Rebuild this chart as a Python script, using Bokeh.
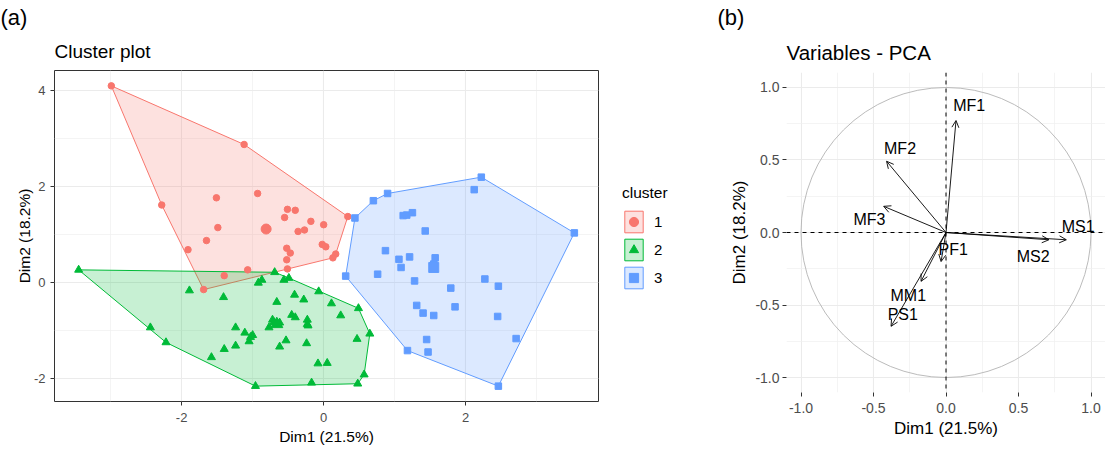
import numpy as np
from bokeh.plotting import figure
from bokeh.models import (ColumnDataSource, FixedTicker, Legend, LegendItem, Title,
                          Span, Arrow, OpenHead, Range1d)
from bokeh.layouts import row
from bokeh.embed import file_html
from bokeh.resources import INLINE
from bokeh.core.properties import value

FONT = "Liberation Sans"

# ---------------- data: cluster plot ----------------
c1_x = [-2.99, -1.12, -2.28, -1.51, -0.93, -0.51, -0.40, -0.55, -0.18, 0.00, 0.34, -1.49,
        -0.36, -0.27, -1.65, -1.91, -0.52, -0.47, -0.52, -0.02, 0.03, 0.17, 0.13, -0.51,
        -1.07, -1.40, -1.69]
c1_y = [4.09, 2.87, 1.61, 1.76, 1.85, 1.52, 1.50, 1.35, 1.27, 1.20, 1.37, 1.14,
        1.06, 1.09, 0.87, 0.68, 0.71, 0.61, 0.47, 0.79, 0.74, 0.59, 0.51, 0.28,
        0.26, 0.14, -0.15]

c2_x = [-3.45, -0.69, -0.49, -0.56, -0.87, -0.92, -1.89, -1.41, -0.41, -0.07, -0.28, -0.66,
        0.11, 0.49, 0.24, -0.45, -0.40, -0.23, -0.23, -0.22, -0.72, -0.77, -0.70, -0.62,
        -1.24, -2.44, -1.11, -1.00, -1.03, -1.05, -0.53, -0.24, -2.22, -1.24, -0.62, -1.40,
        -1.58, -0.08, 0.05, -0.96, -0.17, 0.48, 0.65, 0.47, 0.57]
c2_y = [0.26, 0.21, 0.09, 0.05, 0.05, -0.01, -0.17, -0.31, -0.26, -0.19, -0.36, -0.41,
        -0.44, -0.54, -0.69, -0.68, -0.73, -0.78, -0.87, -0.90, -0.78, -0.94, -0.83, -0.84,
        -0.94, -0.94, -1.05, -1.10, -1.14, -1.23, -1.21, -1.27, -1.25, -1.32, -1.34, -1.39,
        -1.56, -1.69, -1.68, -2.16, -2.09, -2.11, -1.07, -1.18, -1.92]

c3_x = [2.22, 2.12, 0.90, 0.70, 0.44, 1.12, 1.17, 1.25, 1.43, 3.53, 0.87, 1.06,
        1.21, 1.09, 1.57, 1.55, 0.76, 0.31, 1.28, 2.27, 2.46, 1.79, 1.31, 1.85,
        1.40, 1.55, 2.45, 2.71, 1.45, 1.18, 1.47, 2.46]
c3_y = [2.19, 1.93, 1.85, 1.70, 1.34, 1.39, 1.40, 1.45, 1.07, 1.03, 0.66, 0.48,
        0.53, 0.31, 0.51, 0.38, 0.17, 0.13, 0.03, 0.07, -0.08, -0.12, -0.48, -0.51,
        -0.64, -0.69, -0.71, -1.17, -1.19, -1.42, -1.45, -2.16]

center_x = [-0.81, -0.66, 1.55]
center_y = [1.11, -0.87, 0.31]
cluster_labels = ["1", "2", "3"]

# ---------------- data: PCA variables ----------------
pca_vars = ["MF1", "MF2", "MF3", "MS1", "MS2", "PF1", "MM1", "PS1"]
pca_x = [0.069, -0.41, -0.43, 0.83, 0.71, -0.034, -0.172, -0.379]
pca_y = [0.77, 0.49, 0.18, -0.05, -0.05, -0.20, -0.336, -0.645]
lab_x = [0.16, -0.317, -0.528, 0.911, 0.601, 0.050, -0.26, -0.298]
lab_y = [0.87, 0.579, 0.087, 0.041, -0.165, -0.119, -0.434, -0.564]
circle_radius = 1.0

# ---------------- styles ----------------
COLORS = ["#F8766D", "#00BA38", "#619CFF"]
MARKERS = ["circle", "triangle", "square"]
PT_SIZE = [6.5, 8, 6.5]
CTR_SIZE = [10, 12, 10]
HULL_ALPHA = 0.22


def convex_hull(xs, ys):
    pts = sorted(set(zip(xs, ys)))
    if len(pts) <= 2:
        return pts

    def cross(o, a, b):
        return (a[0] - o[0]) * (b[1] - o[1]) - (a[1] - o[1]) * (b[0] - o[0])

    lower = []
    for p in pts:
        while len(lower) >= 2 and cross(lower[-2], lower[-1], p) <= 0:
            lower.pop()
        lower.append(p)
    upper = []
    for p in reversed(pts):
        while len(upper) >= 2 and cross(upper[-2], upper[-1], p) <= 0:
            upper.pop()
        upper.append(p)
    return lower[:-1] + upper[:-1]


def style_axes(p, tick_size, label_size):
    for ax in (p.xaxis[0], p.yaxis[0]):
        ax.axis_line_color = None
        ax.major_tick_line_color = "#333333"
        ax.major_tick_out = 4
        ax.major_tick_in = 0
        ax.minor_tick_line_color = None
        ax.major_label_text_font = FONT
        ax.major_label_text_font_size = tick_size
        ax.major_label_text_color = "#4D4D4D"
        ax.axis_label_text_font = FONT
        ax.axis_label_text_font_size = label_size
        ax.axis_label_text_font_style = "normal"
        ax.axis_label_text_color = "#000000"
    for g in (p.xgrid[0], p.ygrid[0]):
        g.grid_line_color = "#EBEBEB"
        g.grid_line_width = 1.1
        g.minor_grid_line_color = "#EFEFEF"
        g.minor_grid_line_width = 0.7


# ---------------- left: cluster plot ----------------
p1 = figure(width=600, height=450, x_range=Range1d(-3.79, 3.87), y_range=Range1d(-2.48, 4.41),
            output_backend="svg", toolbar_location=None, title=None,
            min_border_left=54, min_border_right=2, min_border_top=70, min_border_bottom=49,
            x_axis_label="Dim1 (21.5%)", y_axis_label="Dim2 (18.2%)")
p1.frame_align = False
p1.background_fill_color = "white"
p1.outline_line_color = "#333333"
p1.outline_line_width = 1
style_axes(p1, "13px", "15.5px")
p1.xaxis[0].major_label_standoff = 7
p1.xaxis[0].axis_label_standoff = 3
p1.yaxis[0].major_label_standoff = 5
p1.yaxis[0].axis_label_standoff = -2
p1.xaxis[0].ticker = FixedTicker(ticks=[-2, 0, 2], minor_ticks=[-3, -1, 1, 3])
p1.yaxis[0].ticker = FixedTicker(ticks=[-2, 0, 2, 4], minor_ticks=[-1, 1, 3])
p1.xaxis[0].major_label_overrides = {-2: "-2", 0: "0", 2: "2"}
p1.yaxis[0].major_label_overrides = {-2: "-2", 0: "0", 2: "2", 4: "4"}

cx = [c1_x, c2_x, c3_x]
cy = [c1_y, c2_y, c3_y]
hulls = []
for i in range(3):
    h = convex_hull(cx[i], cy[i])
    hx = [q[0] for q in h]
    hy = [q[1] for q in h]
    hulls.append((hx, hy))
    p1.patch(hx, hy, fill_color=COLORS[i], fill_alpha=HULL_ALPHA,
             line_color=COLORS[i], line_width=1)
for i in range(3):
    src = ColumnDataSource(dict(x=cx[i], y=cy[i]))
    p1.scatter("x", "y", source=src, marker=MARKERS[i], size=PT_SIZE[i],
               fill_color=COLORS[i], line_color=COLORS[i])
for i in range(3):
    p1.scatter([center_x[i]], [center_y[i]], marker=MARKERS[i], size=CTR_SIZE[i],
               fill_color=COLORS[i], line_color=COLORS[i])

t1 = Title(text="Cluster plot", align="left", text_font=FONT, text_font_size="19px",
           text_font_style="normal", text_color="#000000", standoff=18)
t1b = Title(text="(a)", align="left", offset=-54, text_font=FONT, text_font_size="22px",
            text_font_style="normal", text_color="#000000", standoff=0)
p1.add_layout(t1, "above")
p1.add_layout(t1b, "above")

# ---------------- legend panel (same glyphs, out of view; only the legend shows) ----------------
pl = figure(width=100, height=450, x_range=Range1d(100, 101), y_range=Range1d(100, 101),
            output_backend="svg", toolbar_location=None, title=None,
            x_axis_location=None, y_axis_location=None,
            min_border_left=0, min_border_right=0, min_border_top=0, min_border_bottom=0)
pl.frame_align = False
pl.xgrid.visible = False
pl.ygrid.visible = False
pl.outline_line_color = None
items = []
for i in range(3):
    rp = pl.patch(hulls[i][0], hulls[i][1], fill_color=COLORS[i], fill_alpha=HULL_ALPHA,
                  line_color=COLORS[i], line_width=1)
    rs = pl.scatter(cx[i], cy[i], marker=MARKERS[i], size=PT_SIZE[i],
                    fill_color=COLORS[i], line_color=COLORS[i])
    items.append(LegendItem(label=cluster_labels[i], renderers=[rp, rs]))
legend = Legend(items=items, title="cluster", location=(22, 159))
legend.title_text_font = FONT
legend.title_text_font_size = "15.5px"
legend.title_text_font_style = "normal"
legend.title_text_color = "#000000"
legend.title_standoff = 6
legend.label_text_font = FONT
legend.label_text_font_size = "15px"
legend.label_text_color = "#000000"
legend.glyph_width = 23
legend.glyph_height = 27
legend.spacing = 1
legend.label_standoff = 9
legend.padding = 0
legend.margin = 0
legend.border_line_color = None
legend.background_fill_alpha = 0
pl.add_layout(legend, "center")

# ---------------- right: variables PCA ----------------
p2 = figure(width=405, height=450, x_range=Range1d(-1.1, 1.1), y_range=Range1d(-1.1, 1.1),
            output_backend="svg", toolbar_location=None, title=None,
            min_border_left=86, min_border_right=0, min_border_top=72, min_border_bottom=58,
            x_axis_label="Dim1 (21.5%)", y_axis_label="Dim2 (18.2%)")
p2.frame_align = False
p2.outline_line_color = None
style_axes(p2, "14px", "17px")
p2.xaxis[0].major_label_standoff = 6
p2.xaxis[0].axis_label_standoff = 3
p2.yaxis[0].major_label_standoff = 3
p2.yaxis[0].axis_label_standoff = 3
p2.xaxis[0].ticker = FixedTicker(ticks=[-1, -0.5, 0, 0.5, 1], minor_ticks=[-0.75, -0.25, 0.25, 0.75])
p2.yaxis[0].ticker = FixedTicker(ticks=[-1, -0.5, 0, 0.5, 1], minor_ticks=[-0.75, -0.25, 0.25, 0.75])
ovr = {-1: "-1.0", -0.5: "-0.5", 0: "0.0", 0.5: "0.5", 1: "1.0"}
p2.xaxis[0].major_label_overrides = ovr
p2.yaxis[0].major_label_overrides = ovr

p2.circle(x=[0], y=[0], radius=circle_radius, fill_color=None, line_color="#B3B3B3",
          line_width=0.9)
p2.add_layout(Span(location=0, dimension="width", line_color="black", line_dash="4 4",
                   line_width=1))
p2.add_layout(Span(location=0, dimension="height", line_color="black", line_dash="4 4",
                   line_width=1))

asrc = ColumnDataSource(dict(x0=[0.0] * len(pca_x), y0=[0.0] * len(pca_y),
                             x1=pca_x, y1=pca_y))
p2.add_layout(Arrow(end=OpenHead(size=7, line_width=0.9, line_color="black"),
                    source=asrc, x_start="x0", y_start="y0", x_end="x1", y_end="y1",
                    line_color="black", line_width=0.9))
lsrc = ColumnDataSource(dict(x=lab_x, y=lab_y, t=pca_vars))
p2.text("x", "y", text="t", source=lsrc, text_font=value(FONT), text_font_size="16px",
        text_align="center", text_baseline="middle", text_color="#000000")

t2 = Title(text="Variables - PCA", align="left", text_font=FONT, text_font_size="20.5px",
           text_font_style="normal", text_color="#000000", standoff=18)
t2b = Title(text="(b)", align="left", offset=-69, text_font=FONT, text_font_size="22px",
            text_font_style="normal", text_color="#000000", standoff=0)
p2.add_layout(t2, "above")
p2.add_layout(t2b, "above")

layout = row(p1, pl, p2)
open("out.html", "w").write(file_html(layout, INLINE))
